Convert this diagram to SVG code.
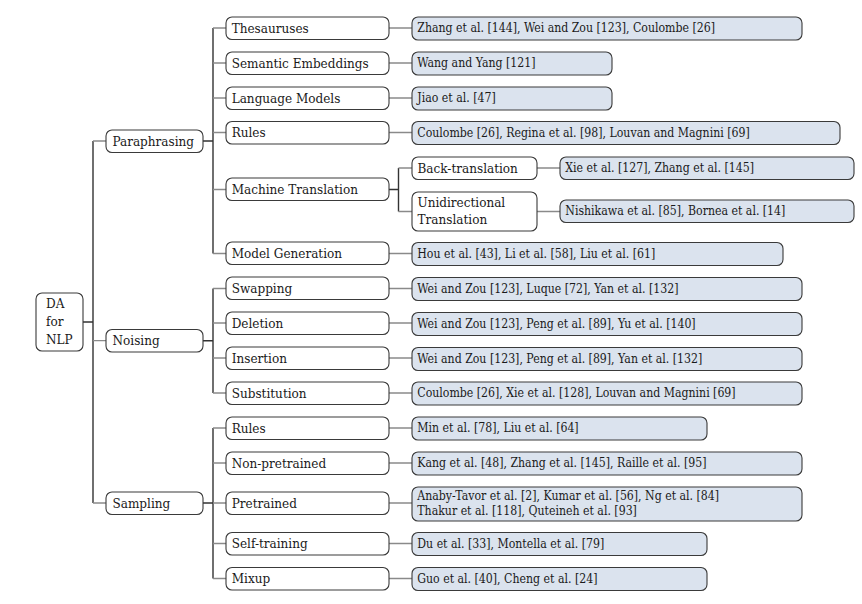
<svg xmlns="http://www.w3.org/2000/svg" width="862" height="604" viewBox="0 0 862 604" font-family="'DejaVu Serif Condensed', 'DejaVu Serif', serif">
<style>
.n rect{fill:#fff;stroke:#3a3a3a;stroke-width:1.1}
.c rect{fill:#dbe3ee;stroke:#3a3a3a;stroke-width:1.1}
text{fill:#1a1a1a;font-stretch:condensed}
.n text{font-size:13.4px}
.c text{font-size:12.2px}
.dk{stroke:#333;stroke-width:1.4;fill:none}
.lt{stroke:#8a8a8a;stroke-width:1.3;fill:none}
</style>
<rect width="862" height="604" fill="#fff"/>
<g id="connectors">
<path class="dk" d="M83 322H93M93 141V503"/>
<path class="lt" d="M93 141H106M93 340.7H106M93 503H106"/>
<path class="dk" d="M203 141H213M203 340.7H213M203 503H213M213 28V253.5M213 288.5V393M213 428V578.5"/>
<path class="lt" d="M213 28H226M213 63H226M213 98H226M213 132.5H226M213 189.5H226M213 253.5H226M213 288.5H226M213 323H226M213 358H226M213 393H226M213 428H226M213 463H226M213 503H226M213 543.5H226M213 578.5H226"/>
<path class="lt" d="M389 28H412M389 63H412M389 98H412M389 132.5H412M389 253.5H412M389 288.5H412M389 323H412M389 358H412M389 393H412M389 428H412M389 463H412M389 503H412M389 543.5H412M389 578.5H412"/>
<path class="dk" d="M389 189.5H398.5M398.5 168V211.5"/>
<path class="lt" d="M398.5 168H412M398.5 211.5H412M537 168H560M537 211.5H560"/>
</g>
<g id="root" class="n"><rect x="36" y="293" width="47" height="58" rx="6"/><text x="46" y="307.7">DA</text><text x="46" y="325.5">for</text><text x="46" y="343.5">NLP</text></g>
<g id="paraphrasing" class="n"><rect x="106" y="130" width="97" height="22.5" rx="6"/><text x="112.5" y="145.5">Paraphrasing</text></g>
<g id="noising" class="n"><rect x="106" y="329.5" width="97" height="22.5" rx="6"/><text x="112.5" y="345.2">Noising</text></g>
<g id="sampling" class="n"><rect x="106" y="492" width="97" height="22.5" rx="6"/><text x="112.5" y="507.7">Sampling</text></g>

<g id="thesauruses" class="n"><rect x="226" y="17" width="163" height="22.5" rx="6"/><text x="231.7" y="32.5">Thesauruses</text></g>
<g id="semantic" class="n"><rect x="226" y="52" width="163" height="22.5" rx="6"/><text x="231.7" y="67.5">Semantic Embeddings</text></g>
<g id="langmodels" class="n"><rect x="226" y="87" width="163" height="22.5" rx="6"/><text x="231.7" y="102.5">Language Models</text></g>
<g id="rules1" class="n"><rect x="226" y="121.5" width="163" height="22.5" rx="6"/><text x="231.7" y="137">Rules</text></g>
<g id="mt" class="n"><rect x="226" y="178" width="163" height="22.5" rx="6"/><text x="231.7" y="194">Machine Translation</text></g>
<g id="modelgen" class="n"><rect x="226" y="242" width="163" height="22.5" rx="6"/><text x="231.7" y="258">Model Generation</text></g>
<g id="swapping" class="n"><rect x="226" y="277" width="163" height="22.5" rx="6"/><text x="231.7" y="293">Swapping</text></g>
<g id="deletion" class="n"><rect x="226" y="312" width="163" height="22.5" rx="6"/><text x="231.7" y="327.5">Deletion</text></g>
<g id="insertion" class="n"><rect x="226" y="347" width="163" height="22.5" rx="6"/><text x="231.7" y="362.5">Insertion</text></g>
<g id="substitution" class="n"><rect x="226" y="382" width="163" height="22.5" rx="6"/><text x="231.7" y="397.5">Substitution</text></g>
<g id="rules2" class="n"><rect x="226" y="417" width="163" height="22.5" rx="6"/><text x="231.7" y="432.5">Rules</text></g>
<g id="nonpretrained" class="n"><rect x="226" y="452" width="163" height="22.5" rx="6"/><text x="231.7" y="467.5">Non-pretrained</text></g>
<g id="pretrained" class="n"><rect x="226" y="492" width="163" height="22.5" rx="6"/><text x="231.7" y="507.5">Pretrained</text></g>
<g id="selftraining" class="n"><rect x="226" y="532.5" width="163" height="22.5" rx="6"/><text x="231.7" y="548">Self-training</text></g>
<g id="mixup" class="n"><rect x="226" y="567.5" width="163" height="22.5" rx="6"/><text x="231.7" y="583">Mixup</text></g>

<g id="backtrans" class="n"><rect x="412" y="157" width="125" height="22.5" rx="6"/><text x="417.5" y="172.5">Back-translation</text></g>
<g id="unidir" class="n"><rect x="412" y="192" width="125" height="39" rx="6"/><text x="417.5" y="206.5">Unidirectional</text><text x="417.5" y="223.5">Translation</text></g>

<g id="c-thes" class="c"><rect x="412" y="17" width="390" height="23" rx="6"/><text x="417.3" y="32.3">Zhang et al. [144], Wei and Zou [123], Coulombe [26]</text></g>
<g id="c-sem" class="c"><rect x="412" y="52" width="200" height="23" rx="6"/><text x="417.3" y="67.3">Wang and Yang [121]</text></g>
<g id="c-lm" class="c"><rect x="412" y="87" width="200" height="23" rx="6"/><text x="417.3" y="102.3">Jiao et al. [47]</text></g>
<g id="c-rules1" class="c"><rect x="412" y="121.5" width="428" height="23" rx="6"/><text x="417.3" y="136.8">Coulombe [26], Regina et al. [98], Louvan and Magnini [69]</text></g>
<g id="c-back" class="c"><rect x="560" y="157" width="294" height="22.5" rx="6"/><text x="565.3" y="172.3">Xie et al. [127], Zhang et al. [145]</text></g>
<g id="c-unidir" class="c"><rect x="560" y="200" width="294" height="22.5" rx="6"/><text x="565.3" y="215.3">Nishikawa et al. [85], Bornea et al. [14]</text></g>
<g id="c-modelgen" class="c"><rect x="412" y="242.5" width="371" height="23" rx="6"/><text x="417.3" y="257.8">Hou et al. [43], Li et al. [58], Liu et al. [61]</text></g>
<g id="c-swap" class="c"><rect x="412" y="277.5" width="390" height="23" rx="6"/><text x="417.3" y="292.8">Wei and Zou [123], Luque [72], Yan et al. [132]</text></g>
<g id="c-del" class="c"><rect x="412" y="312.5" width="390" height="23" rx="6"/><text x="417.3" y="327.8">Wei and Zou [123], Peng et al. [89], Yu et al. [140]</text></g>
<g id="c-ins" class="c"><rect x="412" y="347.5" width="390" height="23" rx="6"/><text x="417.3" y="362.8">Wei and Zou [123], Peng et al. [89], Yan et al. [132]</text></g>
<g id="c-sub" class="c"><rect x="412" y="382" width="390" height="23" rx="6"/><text x="417.3" y="397.3">Coulombe [26], Xie et al. [128], Louvan and Magnini [69]</text></g>
<g id="c-rules2" class="c"><rect x="412" y="417" width="295" height="23" rx="6"/><text x="417.3" y="432.3">Min et al. [78], Liu et al. [64]</text></g>
<g id="c-nonpre" class="c"><rect x="412" y="452" width="390" height="23" rx="6"/><text x="417.3" y="467.3">Kang et al. [48], Zhang et al. [145], Raille et al. [95]</text></g>
<g id="c-pre" class="c"><rect x="412" y="487" width="390" height="34" rx="6"/><text x="417.3" y="500">Anaby-Tavor et al. [2], Kumar et al. [56], Ng et al. [84]</text><text x="417.3" y="514.5">Thakur et al. [118], Quteineh et al. [93]</text></g>
<g id="c-self" class="c"><rect x="412" y="532.5" width="295" height="23" rx="6"/><text x="417.3" y="547.8">Du et al. [33], Montella et al. [79]</text></g>
<g id="c-mixup" class="c"><rect x="412" y="567.5" width="295" height="23" rx="6"/><text x="417.3" y="582.8">Guo et al. [40], Cheng et al. [24]</text></g>
</svg>
